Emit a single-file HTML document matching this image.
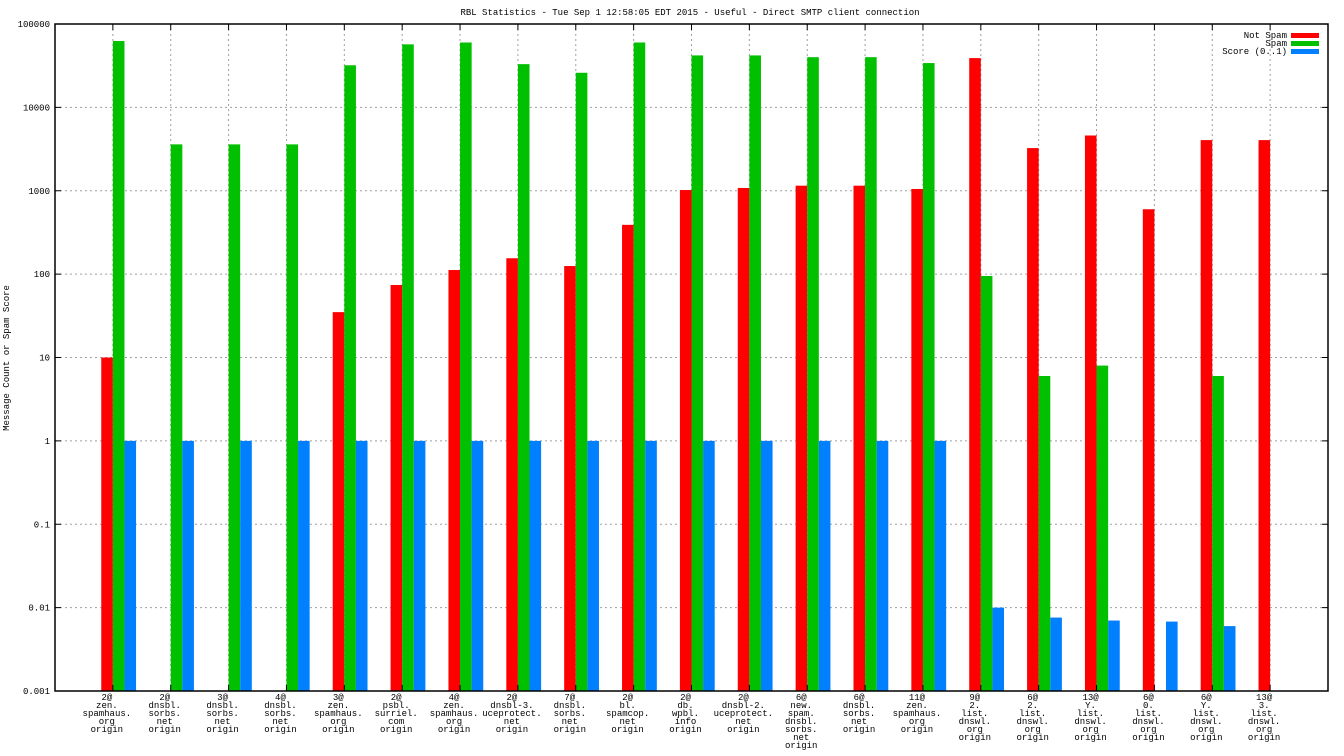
<!DOCTYPE html>
<html><head><meta charset="utf-8">
<style>
html,body{margin:0;padding:0;background:#fff;}
svg{display:block;font-family:"Liberation Mono",monospace;}
</style></head>
<body>
<svg id="chart" width="1344" height="756" viewBox="0 0 1344 756" xmlns="http://www.w3.org/2000/svg">
<rect x="0" y="0" width="1344" height="756" fill="#fff"/>
<text x="690" y="15" font-size="9" text-anchor="middle" fill="#000">RBL Statistics - Tue Sep  1 12:58:05 EDT 2015 - Useful - Direct SMTP client connection</text>
<text transform="translate(9,358) rotate(-90)" font-size="9" text-anchor="middle" fill="#000">Message Count or Spam Score</text>
<g id="grid"></g>
<g id="bars"></g>
<g id="axes"></g>
<g id="legend">
<text x="1287" y="38" font-size="9" text-anchor="end">Not Spam</text>
<rect x="1291" y="33" width="28" height="5" fill="#ff0000"/>
<text x="1287" y="46" font-size="9" text-anchor="end">Spam</text>
<rect x="1291" y="41" width="28" height="5" fill="#00c000"/>
<text x="1287" y="54" font-size="9" text-anchor="end">Score (0..1)</text>
<rect x="1291" y="49" width="28" height="5" fill="#0080ff"/>
</g>
</svg>
<script>
const categories = [
["2@","zen.","spamhaus.","org","origin"],
["2@","dnsbl.","sorbs.","net","origin"],
["3@","dnsbl.","sorbs.","net","origin"],
["4@","dnsbl.","sorbs.","net","origin"],
["3@","zen.","spamhaus.","org","origin"],
["2@","psbl.","surriel.","com","origin"],
["4@","zen.","spamhaus.","org","origin"],
["2@","dnsbl-3.","uceprotect.","net","origin"],
["7@","dnsbl.","sorbs.","net","origin"],
["2@","bl.","spamcop.","net","origin"],
["2@","db.","wpbl.","info","origin"],
["2@","dnsbl-2.","uceprotect.","net","origin"],
["6@","new.","spam.","dnsbl.","sorbs.","net","origin"],
["6@","dnsbl.","sorbs.","net","origin"],
["11@","zen.","spamhaus.","org","origin"],
["9@","2.","list.","dnswl.","org","origin"],
["6@","2.","list.","dnswl.","org","origin"],
["13@","Y.","list.","dnswl.","org","origin"],
["6@","0.","list.","dnswl.","org","origin"],
["6@","Y.","list.","dnswl.","org","origin"],
["13@","3.","list.","dnswl.","org","origin"]
];
const notSpam = [10,null,null,null,35,74,112,155,125,390,1020,1080,1150,1150,1050,39000,3250,4600,600,4050,4050];
const spam = [62500,3600,3600,3600,32000,57000,60000,33000,26000,60000,42000,42000,40000,40000,34000,95,6,8,null,6,null];
const score = [1,1,1,1,1,1,1,1,1,1,1,1,1,1,1,0.01,0.0076,0.007,0.0068,0.006,null];
const yTickLabels = ["0.001","0.01","0.1","1","10","100","1000","10000","100000"];

const NS="http://www.w3.org/2000/svg";
const L=55,R=1328,T=24,B=691;
const yMin=-3,yMax=5;
function yScale(v){return B-(Math.log10(v)-yMin)/(yMax-yMin)*(B-T);}
const slot=(R-L)/(categories.length+1);
function xCenter(i){return L+slot*(i+1);}
function mk(tag,attrs,parent){const e=document.createElementNS(NS,tag);for(const k in attrs)e.setAttribute(k,attrs[k]);parent.appendChild(e);return e;}
const grid=document.getElementById('grid'),bars=document.getElementById('bars'),axes=document.getElementById('axes');

yTickLabels.forEach((t,i)=>{
  const y=yScale(Math.pow(10,yMin+i));
  if(i>0&&i<yTickLabels.length-1){
    const g=mk('line',{x1:L,x2:R,y1:y,y2:y,stroke:'#a0a0a0','stroke-dasharray':'2,3','stroke-width':1},grid);
    
    
  }
  const tk=mk('line',{x1:L,x2:L+6,y1:y,y2:y,stroke:'#000'},axes);
  
  
  const tk2=mk('line',{x1:R,x2:R-6,y1:y,y2:y,stroke:'#000'},axes);
  
  
  const tx=mk('text',{x:L-5,y:y+3,'font-size':9,'text-anchor':'end',fill:'#000'},axes);
  tx.textContent=t;
  
  
});

const w=11.6;
categories.forEach((lines,i)=>{
  const c=xCenter(i);
  const g=mk('line',{x1:c,x2:c,y1:T,y2:B,stroke:'#a0a0a0','stroke-dasharray':'2,3','stroke-width':1},grid);
  
  
  const tk=mk('line',{x1:c,x2:c,y1:B,y2:B-6,stroke:'#000'},axes);
  
  
  const tk2=mk('line',{x1:c,x2:c,y1:T,y2:T+6,stroke:'#000'},axes);
  
  
  [[notSpam,'#ff0000',-w,'bar-not-spam'],[spam,'#00c000',0,'bar-spam'],[score,'#0080ff',w,'bar-score']].forEach(([arr,col,off,nm])=>{
    const v=arr[i]; if(v==null) return;
    const y=yScale(v);
    const r=mk('rect',{x:c+off,y:y,width:w,height:B-y,fill:col},bars);
    
    
  });
  const t=mk('text',{'font-size':9,'text-anchor':'middle',fill:'#000'},axes);
  
  
  lines.forEach((ln,j)=>{const s=mk('tspan',{x:c-6,y:700+j*8},t);s.textContent=ln;});
});
const frame=mk('rect',{x:L,y:T,width:R-L,height:B-T,fill:'none',stroke:'#000','stroke-width':1.5},axes);


</script>
</body></html>
